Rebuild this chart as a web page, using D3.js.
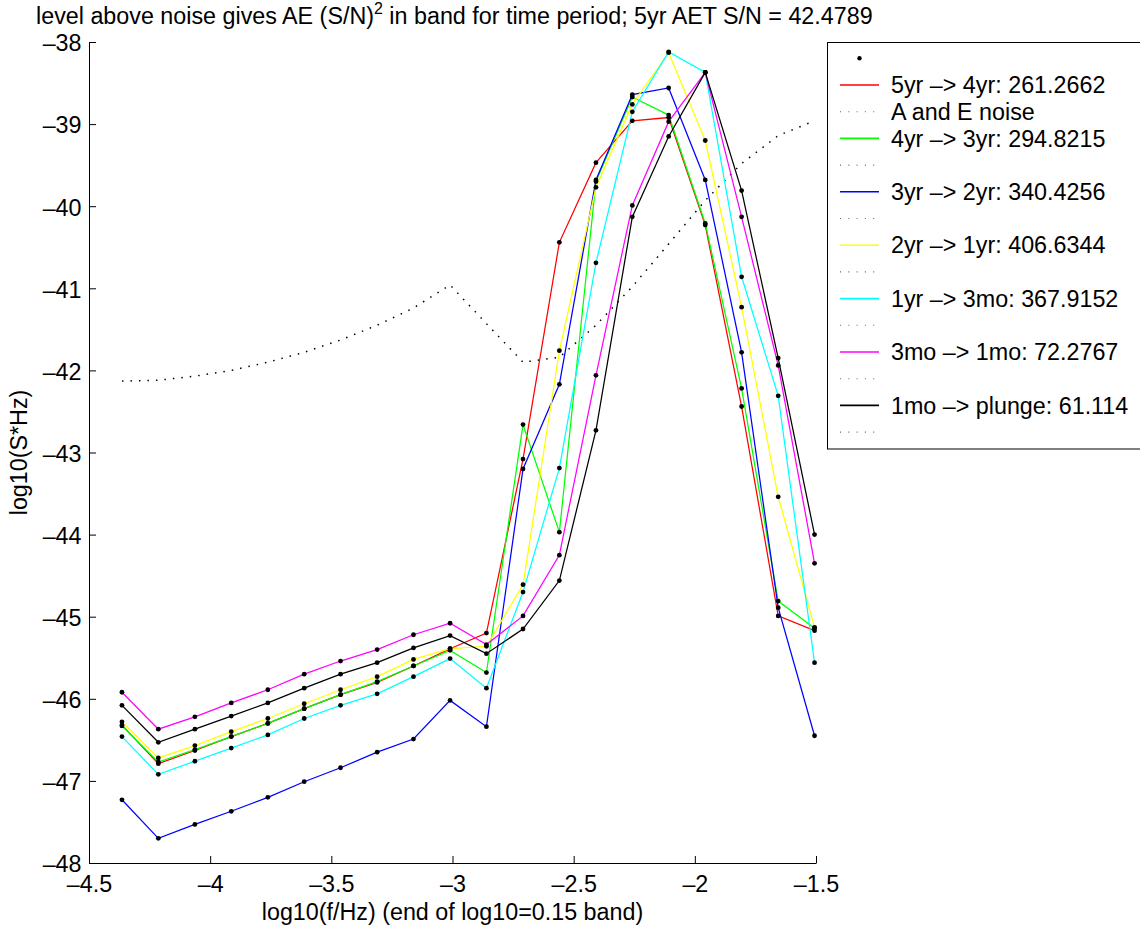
<!DOCTYPE html>
<html>
<head>
<meta charset="utf-8">
<script src="https://cdn.jsdelivr.net/npm/d3@7"></script>
<style>
  html, body { margin: 0; padding: 0; background: #fff; }
  svg { display: block; }
  text { font-family: "Liberation Sans", Arial, Helvetica, sans-serif; fill: #000; }
</style>
</head>
<body>
<svg id="chart" width="1140" height="932"></svg>
<script>
// ---- data ----
const xVals = [-4.364, -4.214, -4.063, -3.913, -3.762, -3.612, -3.462, -3.311, -3.161, -3.010,
               -2.860, -2.709, -2.559, -2.408, -2.258, -2.108, -1.957, -1.807, -1.656, -1.506];

const red5to4 = [-46.32, -46.79, -46.63, -46.46, -46.30, -46.12, -45.95, -45.80, -45.60, -45.39,
                 -45.20, -43.08, -40.44, -39.47, -38.96, -38.92, -40.23, -42.44, -44.99, -45.17];
const green4to3 = [-46.33, -46.77, -46.62, -46.46, -46.30, -46.12, -45.95, -45.79, -45.60, -45.41,
                   -45.68, -42.66, -43.97, -39.70, -38.67, -38.89, -40.21, -42.22, -44.81, -45.14];
const blue3to2 = [-47.23, -47.70, -47.53, -47.37, -47.20, -47.01, -46.84, -46.65, -46.49, -46.02,
                  -46.34, -43.20, -42.17, -39.68, -38.64, -38.56, -39.68, -41.78, -44.89, -46.45];
const yellow2to1 = [-46.28, -46.72, -46.57, -46.40, -46.24, -46.06, -45.89, -45.73, -45.52, -45.39,
                    -45.36, -44.61, -41.76, -39.77, -38.76, -38.13, -39.20, -41.23, -43.54, -45.13];
const cyan1yto3mo = [-46.46, -46.92, -46.76, -46.60, -46.44, -46.24, -46.08, -45.94, -45.73, -45.51,
                     -45.87, -44.70, -43.19, -40.69, -38.85, -38.12, -38.37, -40.86, -42.31, -45.56];
const magenta3to1mo = [-45.92, -46.37, -46.22, -46.05, -45.89, -45.70, -45.54, -45.40, -45.22, -45.08,
                       -45.34, -44.99, -44.25, -42.06, -39.99, -38.97, -38.37, -40.13, -41.94, -44.35];
const black1moPlunge = [-46.08, -46.53, -46.37, -46.21, -46.05, -45.87, -45.70, -45.56, -45.38, -45.23,
                        -45.45, -45.15, -44.56, -42.73, -40.13, -39.15, -38.37, -39.81, -41.85, -44.00];
const noiseAE = [-42.13, -42.12, -42.07, -42.00, -41.90, -41.78, -41.63, -41.45, -41.24, -40.96,
                 -41.43, -41.90, -41.84, -41.45, -40.98, -40.46, -39.93, -39.48, -39.14, -38.96];

const seriesNames = ["5yr –> 4yr: 261.2662", "4yr –> 3yr: 294.8215", "3yr –> 2yr: 340.4256",
                     "2yr –> 1yr: 406.6344", "1yr –> 3mo: 367.9152", "3mo –> 1mo: 72.2767",
                     "1mo –> plunge: 61.114"];
const seriesColors = ["#ff0000", "#00ff00", "#0000ff", "#ffff00", "#00ffff", "#ff00ff", "#000000"];
const seriesValues = [red5to4, green4to3, blue3to2, yellow2to1, cyan1yto3mo, magenta3to1mo, black1moPlunge];
const noiseName = "A and E noise";

const xTicks = [-4.5, -4, -3.5, -3, -2.5, -2, -1.5];
const yTicks = [-48, -47, -46, -45, -44, -43, -42, -41, -40, -39, -38];

const titleMain = "level above noise gives AE (S/N)";
const titleSup = "2";
const titleRest = " in band for time period; 5yr AET S/N = 42.4789";
const xLabel = "log10(f/Hz) (end of log10=0.15 band)";
const yLabel = "log10(S*Hz)";

// ---- drawing ----
const FS = 23.3;
const svg = d3.select("#chart");
const x = d3.scaleLinear().domain([-4.5, -1.5]).range([89, 816]);
const y = d3.scaleLinear().domain([-48, -38]).range([863, 42]);
const fmt = d => (d < 0 ? "–" : "") + String(Math.abs(d));

// noise (dotted)
const line = d3.line().x((d, i) => x(xVals[i])).y(d => y(d));
svg.append("path")
  .datum(noiseAE)
  .attr("d", line)
  .attr("fill", "none")
  .attr("stroke", "#000")
  .attr("stroke-width", 1.5)
  .attr("stroke-dasharray", "1.5,7");

// series lines
seriesValues.forEach((vals, si) => {
  svg.append("path")
    .datum(vals)
    .attr("d", line)
    .attr("fill", "none")
    .attr("stroke", seriesColors[si])
    .attr("stroke-width", 1.25);
});
// markers
seriesValues.forEach((vals) => {
  svg.append("g").selectAll("circle")
    .data(vals)
    .join("circle")
    .attr("cx", (d, i) => x(xVals[i]))
    .attr("cy", d => y(d))
    .attr("r", 2.4)
    .attr("fill", "#000");
});

// axes
const xAxis = d3.axisBottom(x).tickValues(xTicks).tickFormat(fmt)
  .tickSizeInner(-7).tickSizeOuter(0).tickPadding(12);
const gx = svg.append("g").attr("transform", `translate(0,${863})`).call(xAxis);
const yAxis = d3.axisLeft(y).tickValues(yTicks).tickFormat(fmt)
  .tickSizeInner(-7).tickSizeOuter(0).tickPadding(7.5);
const gy = svg.append("g").attr("transform", `translate(${89},0)`).call(yAxis);
[gx, gy].forEach(g => {
  g.selectAll("text").attr("font-size", FS).attr("font-family", null).attr("fill", "#000");
  g.selectAll("path, line").attr("stroke", "#000");
  g.attr("font-family", null).attr("font-size", null);
});
gy.selectAll("text").attr("dy", "0.38em");

// axis labels
svg.append("text")
  .attr("x", (x(-4.5) + x(-1.5)) / 2).attr("y", 920)
  .attr("text-anchor", "middle").attr("font-size", FS)
  .text(xLabel);
svg.append("text")
  .attr("transform", `translate(27,${(y(-48) + y(-38)) / 2}) rotate(-90)`)
  .attr("text-anchor", "middle").attr("font-size", FS)
  .text(yLabel);

// title
const title = svg.append("text").attr("x", 36).attr("y", 24).attr("font-size", FS);
title.append("tspan").text(titleMain);
title.append("tspan").attr("font-size", 16).attr("dy", -10).text(titleSup);
title.append("tspan").attr("dy", 10).text(titleRest);

// legend
const lg = svg.append("g");
lg.append("rect")
  .attr("x", 827.5).attr("y", 42.5).attr("width", 400).attr("height", 406.5)
  .attr("fill", "#fff").attr("stroke", "#000").attr("stroke-width", 1);

const rowY = k => 58.3 + 26.7 * k;
const sx0 = 840, sx1 = 879, tx = 891;
// first entry: marker only
lg.append("circle").attr("cx", (sx0 + sx1) / 2).attr("cy", rowY(0)).attr("r", 2.2).attr("fill", "#000");

const entries = [];
seriesNames.forEach((name, si) => {
  entries.push({type: "line", color: seriesColors[si], label: name});
  entries.push({type: "dot", color: "#000", label: si === 0 ? noiseName : ""});
});
entries.forEach((e, i) => {
  const k = i + 1;
  const ln = lg.append("line")
    .attr("x1", sx0).attr("x2", sx1)
    .attr("y1", rowY(k)).attr("y2", rowY(k))
    .attr("stroke", e.color).attr("stroke-width", 1.6);
  if (e.type === "dot") ln.attr("stroke-dasharray", "1,7.3").attr("stroke", "#666").attr("stroke-width", 1.1);
  if (e.label) {
    lg.append("text").attr("x", tx).attr("y", rowY(k) + 8.2)
      .attr("font-size", FS).text(e.label);
  }
});
</script>
</body>
</html>
